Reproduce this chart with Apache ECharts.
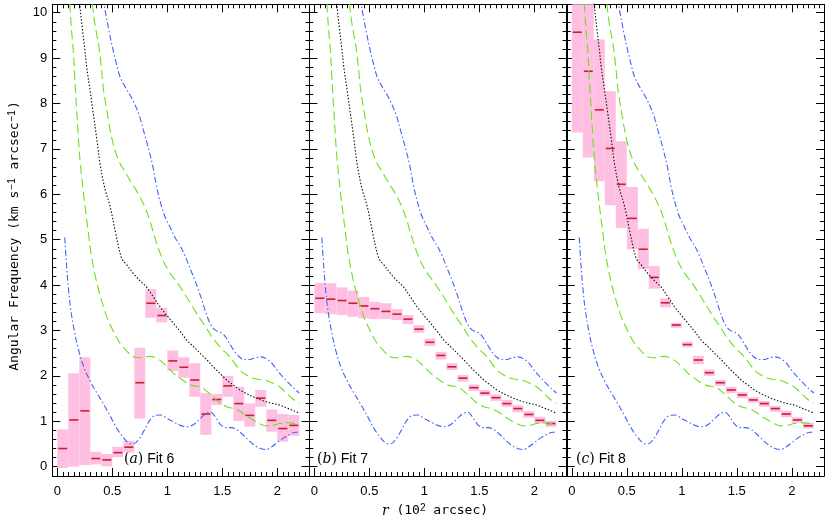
<!DOCTYPE html>
<html><head><meta charset="utf-8">
<script src="https://cdn.jsdelivr.net/npm/echarts@6/dist/echarts.min.js"></script>
<style>html,body{margin:0;padding:0;background:#fff}#c{width:830px;height:529px}</style>
</head><body><div id="c"></div>
<script>
// ---------------- data ----------------
const rCenters = [0.05,0.15,0.25,0.35,0.45,0.55,0.65,0.75,0.85,0.95,1.05,1.15,1.25,1.35,1.45,1.55,1.65,1.75,1.85,1.95,2.05,2.15];
const BINW = 0.1;

const fit6Val = [0.40,1.03,1.23,0.18,0.15,0.31,0.43,1.85,3.60,3.33,2.33,2.19,1.91,1.16,1.48,1.78,1.39,1.13,1.51,1.02,0.84,0.91];
const fit6Lo  = [-0.03,0.00,0.04,0.05,0.01,0.21,0.31,1.06,3.28,3.18,2.11,1.96,1.54,0.70,1.36,1.54,1.01,0.88,1.32,0.77,0.55,0.68];
const fit6Hi  = [0.82,2.06,2.41,0.33,0.28,0.44,0.57,2.62,3.91,3.50,2.56,2.41,2.28,1.62,1.60,2.00,1.76,1.39,1.69,1.26,1.16,1.14];

const fit7Val = [3.71,3.69,3.66,3.60,3.54,3.48,3.42,3.36,3.25,3.03,2.74,2.45,2.20,1.95,1.74,1.62,1.52,1.39,1.28,1.15,1.02,0.95];
const fit7Lo  = [3.38,3.36,3.34,3.30,3.27,3.25,3.25,3.23,3.14,2.95,2.66,2.36,2.13,1.87,1.67,1.56,1.45,1.32,1.20,1.08,0.95,0.88];
const fit7Hi  = [4.05,4.04,3.95,3.88,3.74,3.63,3.60,3.47,3.34,3.12,2.82,2.53,2.28,2.02,1.81,1.69,1.59,1.47,1.35,1.22,1.10,1.01];

const fit8Val = [9.57,8.71,7.86,7.01,6.22,5.47,4.79,4.17,3.61,3.12,2.69,2.35,2.07,1.85,1.69,1.58,1.47,1.39,1.28,1.16,1.03,0.90];
const fit8Lo  = [7.36,6.81,6.29,5.76,5.26,4.79,4.35,3.92,3.51,3.06,2.63,2.26,2.00,1.78,1.62,1.51,1.41,1.32,1.21,1.09,0.97,0.84];
const fit8Hi  = [11.5,11.0,9.41,8.27,7.17,6.16,5.24,4.42,3.71,3.17,2.75,2.44,2.14,1.91,1.76,1.64,1.53,1.45,1.34,1.23,1.09,0.97];

const blueLow = [[0.068,5.05],[0.085,4.4],[0.10,3.95],[0.12,3.5],[0.15,3.05],[0.19,2.6],[0.24,2.2],[0.30,1.88],[0.36,1.62],[0.42,1.38],[0.48,1.12],[0.54,0.85],[0.60,0.64],[0.65,0.52],[0.69,0.50],[0.74,0.60],[0.79,0.80],[0.84,1.02],[0.89,1.13],[0.94,1.14],[1.00,1.06],[1.06,0.98],[1.12,0.91],[1.18,0.88],[1.24,0.93],[1.30,1.06],[1.35,1.17],[1.39,1.20],[1.43,1.12],[1.48,0.94],[1.53,0.86],[1.58,0.86],[1.63,0.82],[1.68,0.72],[1.74,0.58],[1.80,0.46],[1.86,0.39],[1.90,0.38],[1.95,0.44],[2.00,0.53],[2.06,0.64],[2.12,0.72],[2.17,0.76],[2.20,0.76]];
const blueUp = [[0.40,10.6],[0.434,10.06],[0.47,9.6],[0.50,9.25],[0.54,8.85],[0.57,8.59],[0.62,8.35],[0.67,8.15],[0.71,7.95],[0.75,7.7],[0.79,7.35],[0.83,7.0],[0.87,6.6],[0.90,6.2],[0.94,5.8],[0.98,5.5],[1.02,5.3],[1.07,5.05],[1.12,4.85],[1.16,4.65],[1.21,4.35],[1.26,4.05],[1.31,3.7],[1.35,3.4],[1.39,3.15],[1.43,3.02],[1.47,2.97],[1.51,2.92],[1.55,2.78],[1.60,2.58],[1.65,2.43],[1.70,2.36],[1.75,2.36],[1.80,2.40],[1.85,2.42],[1.90,2.38],[1.95,2.28],[2.00,2.12],[2.05,1.98],[2.10,1.85],[2.15,1.73],[2.20,1.62]];
const greenUp = [[0.30,10.8],[0.32,10.17],[0.345,9.7],[0.373,9.33],[0.40,8.8],[0.42,8.3],[0.45,7.85],[0.48,7.42],[0.52,7.0],[0.57,6.68],[0.62,6.48],[0.66,6.31],[0.71,6.12],[0.75,5.95],[0.80,5.7],[0.84,5.43],[0.88,5.1],[0.92,4.8],[0.97,4.5],[1.02,4.28],[1.06,4.15],[1.12,3.95],[1.18,3.72],[1.24,3.48],[1.30,3.25],[1.35,3.08],[1.40,2.88],[1.45,2.72],[1.50,2.58],[1.55,2.47],[1.60,2.32],[1.66,2.13],[1.72,2.02],[1.78,1.95],[1.84,1.92],[1.90,1.9],[1.96,1.84],[2.02,1.76],[2.08,1.63],[2.14,1.49],[2.20,1.40]];
const greenLow = [[0.11,10.8],[0.115,10.17],[0.13,9.6],[0.145,9.18],[0.16,8.5],[0.176,7.86],[0.19,7.3],[0.206,6.76],[0.23,6.2],[0.252,5.73],[0.28,5.2],[0.30,4.8],[0.33,4.38],[0.36,4.04],[0.40,3.68],[0.45,3.30],[0.51,2.98],[0.57,2.72],[0.63,2.55],[0.69,2.42],[0.75,2.40],[0.80,2.42],[0.84,2.43],[0.89,2.40],[0.94,2.33],[1.00,2.2],[1.06,2.05],[1.12,1.94],[1.18,1.84],[1.24,1.78],[1.30,1.76],[1.36,1.66],[1.42,1.53],[1.48,1.40],[1.54,1.32],[1.60,1.28],[1.66,1.22],[1.72,1.12],[1.78,1.03],[1.84,0.95],[1.90,0.90],[1.96,0.91],[2.02,0.95],[2.08,0.97],[2.14,0.96],[2.20,0.93]];
const blackMid = [[0.20,10.8],[0.206,10.17],[0.23,9.6],[0.25,9.2],[0.267,8.81],[0.30,8.25],[0.327,7.78],[0.36,7.2],[0.388,6.68],[0.43,6.15],[0.48,5.73],[0.53,5.15],[0.585,4.59],[0.63,4.45],[0.69,4.26],[0.75,4.1],[0.81,3.96],[0.87,3.75],[0.934,3.52],[1.00,3.32],[1.055,3.16],[1.12,2.97],[1.176,2.79],[1.24,2.64],[1.297,2.50],[1.36,2.35],[1.418,2.20],[1.48,2.05],[1.54,1.91],[1.60,1.80],[1.66,1.69],[1.72,1.61],[1.78,1.54],[1.84,1.48],[1.90,1.43],[1.96,1.39],[2.02,1.36],[2.08,1.30],[2.14,1.24],[2.20,1.18]];

const xTickLabels = [0, 0.5, 1, 1.5, 2];
const yTickLabels = [0,1,2,3,4,5,6,7,8,9,10];
const panelNames = ['a','b','c'];
const fitNames = ['Fit 6','Fit 7','Fit 8'];

// ---------------- layout ----------------
const XMIN = -0.0455, XMAX = 2.2927, YMIN = -0.205, YMAX = 10.185;
const GL = [52.3, 309.4, 566.8], GW = 257.2, GT = 4.3, GH = 471.7;
const PINK = '#ffbfe2', RED = '#c8202c', BLUE = '#4262ff', GREEN = '#6ee01a';
const SANS = '"Liberation Sans", Arial, sans-serif';
const MONO = '"DejaVu Sans Mono", monospace';

const xMinor = []; for (let k = 0; k <= 45; k++) { const v = +(k*0.05).toFixed(2); if (v <= XMAX && Math.abs(v*2 - Math.round(v*2)) > 1e-6) xMinor.push(v); }
const yMinor = []; for (let k = -1; k <= 51; k++) { const v = +(k*0.2).toFixed(2); if (v >= YMIN && v <= YMAX && Math.abs(v - Math.round(v)) > 1e-6) yMinor.push(v); }

const grids = [], xAxes = [], yAxes = [], series = [];
const sets = [[fit6Val,fit6Lo,fit6Hi],[fit7Val,fit7Lo,fit7Hi],[fit8Val,fit8Lo,fit8Hi]];

function renderBox(params, api) {
  const c = api.value(0), v = api.value(1), lo = api.value(2), hi = api.value(3);
  const pA = api.coord([c - BINW/2, hi]);
  const pB = api.coord([c + BINW/2, lo]);
  const cs = params.coordSys;
  const rect = echarts.graphic.clipRectByRect(
    {x: pA[0], y: pA[1], width: pB[0]-pA[0], height: pB[1]-pA[1]},
    {x: cs.x, y: cs.y, width: cs.width, height: cs.height});
  const m0 = api.coord([c - BINW/2, v]), m1 = api.coord([c + BINW/2, v]);
  const ch = [];
  if (rect) ch.push({type:'rect', shape: rect, style: {fill: PINK}});
  if (m0[1] >= cs.y && m0[1] <= cs.y + cs.height)
    ch.push({type:'line', shape:{x1: m0[0]+1, y1: m0[1], x2: m1[0]-1, y2: m1[1]}, style:{stroke: RED, lineWidth: 1.6}});
  return {type:'group', children: ch};
}

const hiddenLine = {show:false, onZero:false};
for (let g = 0; g < 3; g++) {
  grids.push({left: GL[g], top: GT, width: GW, height: GH, containLabel: false});
  const xb = {type:'value', gridIndex: g, min: XMIN, max: XMAX, splitLine:{show:false},
    axisLine:{show:true, onZero:false, lineStyle:{color:'#000', width:1}}};
  const tickMaj = {show:true, inside:true, length:8, customValues: xTickLabels, lineStyle:{color:'#000', width:1}};
  const tickMin = {show:true, inside:true, length:4, customValues: xMinor, lineStyle:{color:'#000', width:1}};
  xAxes.push(Object.assign({}, xb, {position:'bottom', axisTick: tickMaj,
    axisLabel:{show:true, customValues: xTickLabels, formatter: v => String(v), fontSize: 13, color:'#000', margin: 9, fontFamily: SANS}}));
  xAxes.push(Object.assign({}, xb, {position:'bottom', axisLine: hiddenLine, axisTick: tickMin, axisLabel:{show:false}}));
  xAxes.push(Object.assign({}, xb, {position:'top', axisTick: tickMaj, axisLabel:{show:false}}));
  xAxes.push(Object.assign({}, xb, {position:'top', axisLine: hiddenLine, axisTick: tickMin, axisLabel:{show:false}}));

  const yb = {type:'value', gridIndex: g, min: YMIN, max: YMAX, splitLine:{show:false},
    axisLine:{show:true, onZero:false, lineStyle:{color:'#000', width:1}}};
  const yMaj = {show:true, inside:true, length:8, customValues: yTickLabels, lineStyle:{color:'#000', width:1}};
  const yMin = {show:true, inside:true, length:4, customValues: yMinor, lineStyle:{color:'#000', width:1}};
  yAxes.push(Object.assign({}, yb, {position:'left', axisTick: yMaj,
    axisLabel:{show: g === 0, customValues: yTickLabels, fontSize: 13, color:'#000', margin: 5, fontFamily: SANS}}));
  yAxes.push(Object.assign({}, yb, {position:'left', axisLine: hiddenLine, axisTick: yMin, axisLabel:{show:false}}));
  yAxes.push(Object.assign({}, yb, {position:'right', axisTick: yMaj, axisLabel:{show:false}}));
  yAxes.push(Object.assign({}, yb, {position:'right', axisLine: hiddenLine, axisTick: yMin, axisLabel:{show:false}}));

  const [vals, los, his] = sets[g];
  series.push({type:'custom', xAxisIndex: 4*g, yAxisIndex: 4*g, renderItem: renderBox, z: 2, silent: true,
    data: rCenters.map((c, i) => [c, vals[i], los[i], his[i]])});
  const lineDefs = [
    [blueLow, BLUE, [6,2.5,1.5,2.5]], [blueUp, BLUE, [6,2.5,1.5,2.5]],
    [greenLow, GREEN, [9,4.5]], [greenUp, GREEN, [9,4.5]],
    [blackMid, '#111', [1.5,1.8]]
  ];
  lineDefs.forEach(([d, col, dash]) => series.push({type:'line', xAxisIndex: 4*g, yAxisIndex: 4*g, data: d,
    showSymbol: false, smooth: 0.35, z: 3, silent: true, clip: true,
    lineStyle: {color: col, width: 1.1, type: dash}}));
}

const graphics = [
  {type:'text', x: 15, y: 236, rotation: Math.PI/2,
   style:{text:'Angular Frequency (km s{s|\u22121} arcsec{s|\u22121})', font:'13px ' + MONO, fill:'#000',
          align:'center', verticalAlign:'middle', textAlign:'center', textVerticalAlign:'middle',
          lineHeight: 16,
          rich:{s:{fontFamily: SANS, fontSize: 10, fill:'#000', verticalAlign:'top', lineHeight: 10, padding:[0,1,0,1]}}}},
  {type:'text', x: 435, y: 511,
   style:{text:'{i|r} (10{s|2} arcsec)', font:'13px ' + MONO, fill:'#000',
          align:'center', verticalAlign:'middle', textAlign:'center', textVerticalAlign:'middle',
          lineHeight: 16,
          rich:{i:{fontFamily:'"DejaVu Serif", serif', fontStyle:'italic', fontSize:14, fill:'#000'},
                s:{fontFamily: SANS, fontSize: 10, fill:'#000', verticalAlign:'top', lineHeight: 10}}}}
];
const labelX = [124, 317, 576];
for (let g = 0; g < 3; g++) {
  graphics.push({type:'text', x: labelX[g], y: 459,
    style:{text:'{p|(}{i|' + panelNames[g] + '}{p|)} {f|' + fitNames[g] + '}', fill:'#000',
      font: '14px ' + SANS,
      align:'left', verticalAlign:'middle', textAlign:'left', textVerticalAlign:'middle',
      rich:{p:{fontFamily:'"DejaVu Serif", serif', fontSize:14, fill:'#000'},
            i:{fontFamily:'"DejaVu Serif", serif', fontStyle:'italic', fontSize:14, fill:'#000'},
            f:{fontFamily: SANS, fontSize:14, fill:'#000'}}}});
}

const chart = echarts.init(document.getElementById('c'), null, {renderer:'canvas'});
chart.setOption({animation:false, backgroundColor:'#fff', grid: grids, xAxis: xAxes, yAxis: yAxes, series: series, graphic: graphics});
</script></body></html>
